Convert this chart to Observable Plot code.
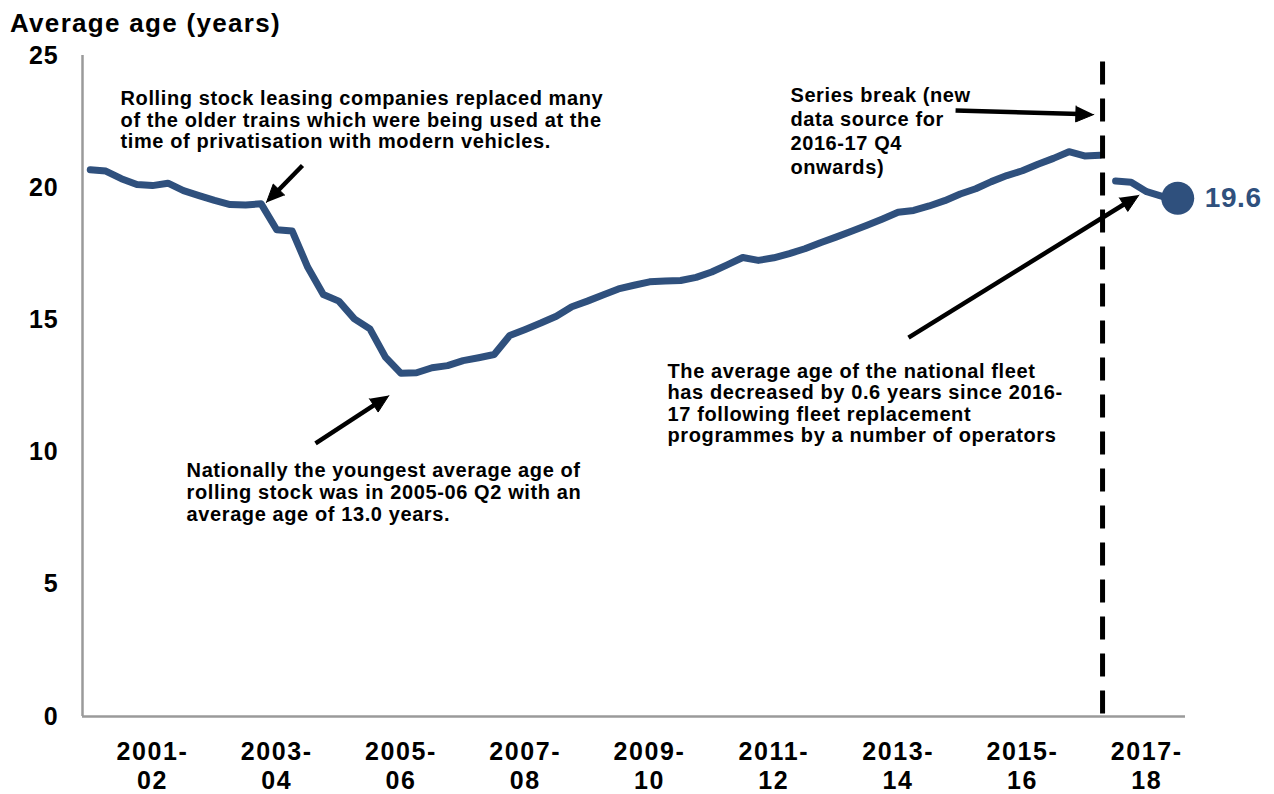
<!DOCTYPE html>
<html><head><meta charset="utf-8">
<script src="https://cdn.jsdelivr.net/npm/d3@7"></script>
<script src="https://cdn.jsdelivr.net/npm/@observablehq/plot@0.6"></script>
<style>
body{margin:0;background:#fff;font-family:"Liberation Sans",Arial,sans-serif;}
#title{position:relative;height:40px;}
#title span{position:absolute;left:10px;top:10px;font-size:26px;font-weight:bold;line-height:1;letter-spacing:1.3px;white-space:nowrap;color:#000;}
#chart svg{display:block;}
g[aria-label="x-axis tick label"]{letter-spacing:1.6px;}
g[aria-label="y-axis tick label"]{letter-spacing:0.8px;}
</style></head><body>
<div id="title"><span>Average age (years)</span></div>
<div id="chart"></div>
<script>
// Quarterly categories (financial years)
const quarters = [
  "2000-01 Q2","2000-01 Q3","2000-01 Q4",
  "2001-02 Q1","2001-02 Q2","2001-02 Q3","2001-02 Q4",
  "2002-03 Q1","2002-03 Q2","2002-03 Q3","2002-03 Q4",
  "2003-04 Q1","2003-04 Q2","2003-04 Q3","2003-04 Q4",
  "2004-05 Q1","2004-05 Q2","2004-05 Q3","2004-05 Q4",
  "2005-06 Q1","2005-06 Q2","2005-06 Q3","2005-06 Q4",
  "2006-07 Q1","2006-07 Q2","2006-07 Q3","2006-07 Q4",
  "2007-08 Q1","2007-08 Q2","2007-08 Q3","2007-08 Q4",
  "2008-09 Q1","2008-09 Q2","2008-09 Q3","2008-09 Q4",
  "2009-10 Q1","2009-10 Q2","2009-10 Q3","2009-10 Q4",
  "2010-11 Q1","2010-11 Q2","2010-11 Q3","2010-11 Q4",
  "2011-12 Q1","2011-12 Q2","2011-12 Q3","2011-12 Q4",
  "2012-13 Q1","2012-13 Q2","2012-13 Q3","2012-13 Q4",
  "2013-14 Q1","2013-14 Q2","2013-14 Q3","2013-14 Q4",
  "2014-15 Q1","2014-15 Q2","2014-15 Q3","2014-15 Q4",
  "2015-16 Q1","2015-16 Q2","2015-16 Q3","2015-16 Q4",
  "2016-17 Q1","2016-17 Q2","2016-17 Q3","2016-17 Q4",
  "2017-18 Q1","2017-18 Q2","2017-18 Q3","2017-18 Q4"
];
// Average age of rolling stock (years)
const ages = [
  20.68,20.63,20.34,
  20.12,20.08,20.17,19.89,
  19.70,19.52,19.36,19.35,
  19.39,18.41,18.36,16.99,
  15.96,15.71,15.04,14.66,
  13.59,12.98,13.00,13.19,
  13.27,13.46,13.57,13.69,
  14.41,14.64,14.88,15.14,
  15.50,15.71,15.94,16.17,
  16.31,16.44,16.47,16.49,
  16.61,16.81,17.08,17.36,
  17.25,17.35,17.51,17.69,
  17.92,18.13,18.35,18.58,
  18.82,19.07,19.14,19.31,
  19.51,19.76,19.96,20.23,
  20.46,20.64,20.89,21.11,
  21.36,21.20,21.23,20.25,
  20.21,19.85,19.67,19.60
];
const breakQuarter = "2016-17 Q4";
const tickYears = ["2001-02","2003-04","2005-06","2007-08","2009-10","2011-12","2013-14","2015-16","2017-18"];
const yTicks = [0,5,10,15,20,25];
const lineColor = "#2f507d";

// Annotation texts (x in quarter-index units, y in years)
const notesTight = [
  {x:1.95, y:23.71, text:"Rolling stock leasing companies replaced many\nof the older trains which were being used at the\ntime of privatisation with modern vehicles."},
  {x:6.2, y:9.62, text:"Nationally the youngest average age of\nrolling stock was in 2005-06 Q2 with an\naverage age of 13.0 years."},
  {x:37.16, y:13.40, text:"The average age of the national fleet\nhas decreased by 0.6 years since 2016-\n17 following fleet replacement\nprogrammes by a number of operators"}
];
const notesLoose = [
  {x:45.07, y:23.88, text:"Series break (new\ndata source for\n2016-17 Q4\nonwards)"}
];
const arrows = [
  {x1:13.66, y1:20.84, x2:11.34, y2:19.44},
  {x1:14.50, y1:10.33, x2:19.22, y2:12.14},
  {x1:55.70, y1:22.92, x2:64.60, y2:22.77},
  {x1:52.67, y1:14.33, x2:67.50, y2:19.72}
];

const breakIdx = quarters.indexOf(breakQuarter);
const rows = quarters.map((q, i) => ({i, q, age: ages[i], seg: i < breakIdx ? "old" : "new"}));
const last = rows[rows.length - 1];
const tickIdx = tickYears.map(y => quarters.indexOf(y + " Q2"));
const tickLabel = new Map(tickIdx.map((k, j) => [k, tickYears[j].replace("-", "-\n")]));

const opts = {
  width: 1274, height: 754,
  marginLeft: 82, marginRight: 89, marginTop: 15, marginBottom: 78,
  x: {type: "linear", domain: [-0.5, quarters.length - 0.5]},
  y: {domain: [0, 25]},
  style: {fontFamily: "'Liberation Sans', Arial, sans-serif", letterSpacing: "0.6px", background: "#fff"}
};

// Use the library's scales to build filled arrowheads
const base = Plot.plot({...opts, marks: [Plot.ruleY([0])]});
const sx = base.scale("x"), sy = base.scale("y");
const HEAD_L = 18, HEAD_W = 16;
const shafts = [], heads = [];
arrows.forEach((a, k) => {
  const px1 = sx.apply(a.x1), py1 = sy.apply(a.y1), px2 = sx.apply(a.x2), py2 = sy.apply(a.y2);
  const dx = px2 - px1, dy = py2 - py1, len = Math.hypot(dx, dy);
  const ux = dx / len, uy = dy / len, nx = -uy, ny = ux;
  const bx = px2 - ux * HEAD_L, by = py2 - uy * HEAD_L;
  shafts.push({x1: a.x1, y1: a.y1, x2: sx.invert(bx + ux * 4), y2: sy.invert(by + uy * 4)});
  heads.push({id: k, x: a.x2, y: a.y2});
  heads.push({id: k, x: sx.invert(bx + nx * HEAD_W / 2), y: sy.invert(by + ny * HEAD_W / 2)});
  heads.push({id: k, x: sx.invert(bx - nx * HEAD_W / 2), y: sy.invert(by - ny * HEAD_W / 2)});
});

const chart = Plot.plot({
  ...opts,
  marks: [
    Plot.ruleY([0], {stroke: "#9a9a9a", strokeWidth: 2.5}),
    Plot.ruleX([-0.5], {y1: 0, y2: 25, stroke: "#9a9a9a", strokeWidth: 2.5}),
    Plot.line(rows, {x: "i", y: "age", z: "seg", stroke: lineColor, strokeWidth: 7, strokeLinecap: "round", strokeLinejoin: "round"}),
    Plot.ruleX([breakIdx - 1], {y1: 24.75, y2: 0, dx: 2.5, stroke: "#000", strokeWidth: 5, strokeDasharray: "23,14"}),
    Plot.dot([last], {x: "i", y: "age", r: 16.5, fill: lineColor}),
    Plot.text([last], {x: "i", y: "age", text: d => d.age.toFixed(1), dx: 27, textAnchor: "start", fontSize: 28, fontWeight: "bold", fill: lineColor}),
    Plot.link(shafts, {x1: "x1", y1: "y1", x2: "x2", y2: "y2", stroke: "#000", strokeWidth: 4.5}),
    Plot.line(heads, {x: "x", y: "y", z: "id", fill: "#000", stroke: "#000", strokeWidth: 1, strokeLinejoin: "miter"}),
    Plot.text(notesTight, {x: "x", y: "y", text: "text", textAnchor: "start", lineAnchor: "top", fontSize: 20, fontWeight: "bold", lineHeight: 1.08, fill: "#000"}),
    Plot.text(notesLoose, {x: "x", y: "y", text: "text", textAnchor: "start", lineAnchor: "top", fontSize: 20, fontWeight: "bold", lineHeight: 1.2, fill: "#000"}),
    Plot.axisY({ticks: yTicks, tickSize: 0, tickPadding: 24, fontSize: 25, fontWeight: "bold", label: null}),
    Plot.axisX({ticks: tickIdx, tickFormat: d => tickLabel.get(d), tickSize: 0, tickPadding: 23, fontSize: 25, fontWeight: "bold", lineHeight: 1.15, label: null})
  ]
});
document.getElementById("chart").appendChild(chart);
</script>
</body></html>
